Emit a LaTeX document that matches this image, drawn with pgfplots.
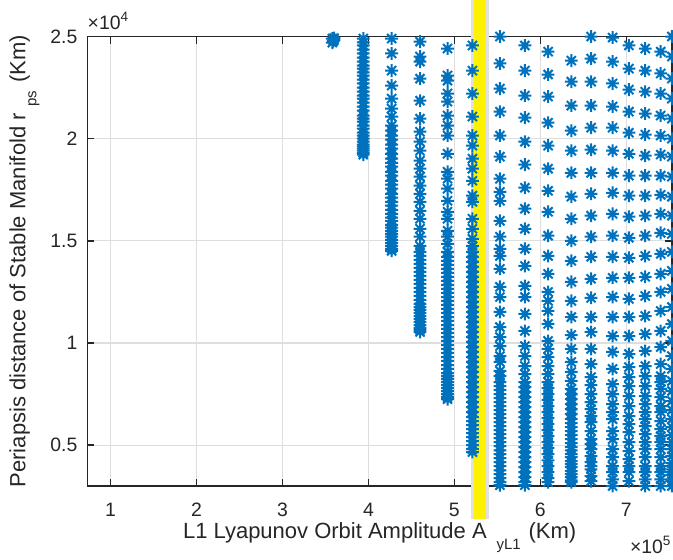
\documentclass[border=0pt]{standalone}
\usepackage{fontspec}
\setmainfont{Liberation Sans}
\usepackage{pgfplots}
\pgfplotsset{compat=1.18}
\definecolor{mblue}{rgb}{0,0.447,0.741}
\definecolor{axgray}{rgb}{0.15,0.15,0.15}
\pgfdeclareplotmark{mstar}{%
  \pgfpathmoveto{\pgfpoint{0pt}{\pgfplotmarksize}}%
  \pgfpathlineto{\pgfpoint{0pt}{-\pgfplotmarksize}}%
  \pgfpathmoveto{\pgfpoint{\pgfplotmarksize}{0pt}}%
  \pgfpathlineto{\pgfpoint{-\pgfplotmarksize}{0pt}}%
  \pgfpathmoveto{\pgfpoint{0.707\pgfplotmarksize}{0.707\pgfplotmarksize}}%
  \pgfpathlineto{\pgfpoint{-0.707\pgfplotmarksize}{-0.707\pgfplotmarksize}}%
  \pgfpathmoveto{\pgfpoint{-0.707\pgfplotmarksize}{0.707\pgfplotmarksize}}%
  \pgfpathlineto{\pgfpoint{0.707\pgfplotmarksize}{-0.707\pgfplotmarksize}}%
  \pgfusepathqstroke}
\pgfplotsset{pts/.style={only marks, mark=mstar, mark size=3.2pt, color=mblue, line width=1pt, mark options={line width=1pt}}}
\begin{document}
\begin{tikzpicture}
\useasboundingbox (-43.65pt,-36.5pt) rectangle (292.85pt,243pt);
\begin{axis}[
  scale only axis, width=292.3pt, height=224.75pt,
  at={(0,0)}, anchor=south west,
  xmin=0.73, xmax=7.53, ymin=0.3, ymax=2.5,
  xtick={1,2,3,4,5,6,7}, ytick={0.5,1,1.5,2,2.5},
  xticklabels={1,2,3,4,5,6,7},
  yticklabels={0.5,1,1.5,2,2.5},
  scaled ticks=false,
  tick align=inside, tick pos=both,
  major tick length=3.5pt,
  grid=major, grid style={color=black!13, line width=0.6pt},
  axis line style={color=axgray, line width=0.7pt},
  tick style={color=axgray, line width=0.7pt},
  ticklabel style={font=\fontsize{9.7}{10}\selectfont, color=axgray, inner sep=1pt},
  xticklabel style={yshift=-7.3pt},
  yticklabel style={xshift=-3.8pt},
  /pgf/number format/assume math mode=true,
  clip=false,
  label style={font=\fontsize{11}{12}\selectfont, color=axgray},
  xlabel style={at={([yshift=-26pt]axis description cs:0.5,0)}, anchor=base},
  ylabel style={at={([xshift=-31pt]axis description cs:0,0.5)}, anchor=base},
  xlabel={L1 Lyapunov Orbit Amplitude A\hspace{0.45em}\raisebox{-0.5em}{\fontsize{7.5}{8}\selectfont yL1}\hspace{0.35em}(Km)},
  ylabel={Periapsis distance of Stable Manifold r\hspace{0.3em}\raisebox{-0.5em}{\fontsize{7.5}{8}\selectfont ps}\hspace{0.35em}(Km)},
]
% column A
\addplot[pts] coordinates {(3.58,2.490)(3.60,2.483)(3.59,2.477)(3.58,2.470)(3.60,2.492)};
% column B
\addplot[pts] coordinates {(3.94,2.490)(3.94,2.471)(3.94,2.456)(3.94,2.436)(3.94,2.417)(3.94,2.397)(3.94,2.377)(3.94,2.358)(3.94,2.343)(3.94,2.324)(3.94,2.309)(3.94,2.289)(3.94,2.270)(3.94,2.250)(3.94,2.230)(3.94,2.211)(3.94,2.196)(3.94,2.176)(3.94,2.157)(3.94,2.137)(3.94,2.113)(3.94,2.098)(3.94,2.083)(3.94,2.064)(3.94,2.049)(3.94,2.029)(3.94,2.015)(3.94,2.000)(3.94,1.985)(3.94,1.971)(3.94,1.961)(3.94,1.951)(3.94,1.941)(3.94,1.931)(3.94,1.922)};
% column C
\addplot[pts] coordinates {(4.27,2.490)(4.27,2.417)(4.27,2.333)(4.27,2.260)(4.27,2.196)(4.27,2.147)(4.27,2.108)(4.27,2.064)(4.27,2.039)(4.27,2.015)(4.27,1.995)(4.27,1.971)(4.27,1.951)(4.27,1.926)(4.27,1.902)(4.27,1.882)(4.27,1.863)(4.27,1.838)(4.27,1.819)(4.27,1.794)(4.27,1.775)(4.27,1.755)(4.27,1.730)(4.27,1.711)(4.27,1.691)(4.27,1.672)(4.27,1.652)(4.27,1.632)(4.27,1.613)(4.27,1.598)(4.27,1.578)(4.27,1.564)(4.27,1.549)(4.27,1.534)(4.27,1.520)(4.27,1.505)(4.27,1.490)(4.27,1.475)(4.27,1.461)(4.27,1.451)};
% column D
\addplot[pts] coordinates {(4.60,2.475)(4.60,2.402)(4.60,2.377)(4.60,2.294)(4.60,2.186)(4.60,2.098)(4.60,2.034)(4.60,1.985)(4.60,1.941)(4.60,1.892)(4.60,1.853)(4.60,1.814)(4.60,1.770)(4.60,1.730)(4.60,1.691)(4.60,1.647)(4.60,1.608)(4.60,1.559)(4.60,1.520)(4.60,1.475)(4.60,1.446)(4.60,1.426)(4.60,1.407)(4.60,1.387)(4.60,1.368)(4.60,1.348)(4.60,1.328)(4.60,1.309)(4.60,1.289)(4.60,1.270)(4.60,1.250)(4.60,1.230)(4.60,1.211)(4.60,1.191)(4.60,1.176)(4.60,1.162)(4.60,1.147)(4.60,1.132)(4.60,1.118)(4.60,1.103)(4.60,1.088)(4.60,1.074)(4.60,1.064)(4.60,1.054)};
% column E
\addplot[pts] coordinates {(4.92,2.441)(4.92,2.309)(4.92,2.284)(4.92,2.221)(4.92,2.181)(4.92,2.113)(4.92,2.064)(4.92,2.015)(4.92,1.926)(4.92,1.838)(4.92,1.804)(4.92,1.755)(4.92,1.696)(4.92,1.642)(4.92,1.608)(4.92,1.549)(4.92,1.520)(4.92,1.485)(4.92,1.446)(4.92,1.422)(4.92,1.402)(4.92,1.382)(4.92,1.363)(4.92,1.343)(4.92,1.324)(4.92,1.304)(4.92,1.284)(4.92,1.265)(4.92,1.245)(4.92,1.225)(4.92,1.206)(4.92,1.186)(4.92,1.167)(4.92,1.147)(4.92,1.127)(4.92,1.108)(4.92,1.088)(4.92,1.069)(4.92,1.049)(4.92,1.029)(4.92,1.010)(4.92,0.990)(4.92,0.971)(4.92,0.951)(4.92,0.931)(4.92,0.912)(4.92,0.892)(4.92,0.873)(4.92,0.853)(4.92,0.838)(4.92,0.824)(4.92,0.809)(4.92,0.794)(4.92,0.779)(4.92,0.765)(4.92,0.750)(4.92,0.735)(4.92,0.725)};
% column F
\addplot[pts] coordinates {(5.21,2.456)(5.21,2.333)(5.21,2.221)(5.21,2.108)(5.21,2.015)(5.21,1.966)(5.21,1.902)(5.21,1.853)(5.21,1.794)(5.21,1.721)(5.21,1.691)(5.21,1.608)(5.21,1.559)(5.21,1.510)(5.21,1.475)(5.21,1.446)(5.21,1.422)(5.21,1.397)(5.21,1.373)(5.21,1.348)(5.21,1.324)(5.21,1.299)(5.21,1.275)(5.21,1.250)(5.21,1.225)(5.21,1.201)(5.21,1.176)(5.21,1.152)(5.21,1.127)(5.21,1.103)(5.21,1.078)(5.21,1.054)(5.21,1.029)(5.21,1.005)(5.21,0.980)(5.21,0.956)(5.21,0.931)(5.21,0.907)(5.21,0.882)(5.21,0.858)(5.21,0.833)(5.21,0.809)(5.21,0.784)(5.21,0.760)(5.21,0.735)(5.21,0.711)(5.21,0.686)(5.21,0.662)(5.21,0.637)(5.21,0.618)(5.21,0.598)(5.21,0.578)(5.21,0.559)(5.21,0.539)(5.21,0.520)(5.21,0.500)(5.21,0.480)(5.21,0.466)};
% column G
\addplot[pts] coordinates {(5.53,2.500)(5.53,2.368)(5.53,2.245)(5.53,2.132)(5.53,2.015)(5.53,1.912)(5.53,1.804)(5.53,1.740)(5.53,1.696)(5.53,1.598)(5.53,1.520)(5.53,1.461)(5.53,1.426)(5.53,1.363)(5.53,1.275)(5.53,1.225)(5.53,1.152)(5.53,1.078)(5.53,1.029)(5.53,0.985)(5.53,0.936)(5.53,0.907)(5.53,0.863)(5.53,0.838)(5.53,0.809)(5.53,0.789)(5.53,0.770)(5.53,0.750)(5.53,0.730)(5.53,0.711)(5.53,0.691)(5.53,0.672)(5.53,0.652)(5.53,0.632)(5.53,0.613)(5.53,0.593)(5.53,0.574)(5.53,0.554)(5.53,0.534)(5.53,0.515)(5.53,0.495)(5.53,0.475)(5.53,0.456)(5.53,0.436)(5.53,0.417)(5.53,0.397)(5.53,0.377)(5.53,0.358)(5.53,0.338)(5.53,0.319)(5.53,0.304)};
% column H
\addplot[pts] coordinates {(5.82,2.456)(5.82,2.333)(5.82,2.211)(5.82,2.103)(5.82,1.985)(5.82,1.873)(5.82,1.760)(5.82,1.657)(5.82,1.559)(5.82,1.461)(5.82,1.377)(5.82,1.279)(5.82,1.225)(5.82,1.142)(5.82,1.059)(5.82,0.985)(5.82,0.936)(5.82,0.887)(5.82,0.848)(5.82,0.809)(5.82,0.784)(5.82,0.760)(5.82,0.735)(5.82,0.711)(5.82,0.686)(5.82,0.662)(5.82,0.637)(5.82,0.613)(5.82,0.588)(5.82,0.564)(5.82,0.539)(5.82,0.515)(5.82,0.490)(5.82,0.466)(5.82,0.441)(5.82,0.417)(5.82,0.392)(5.82,0.368)(5.82,0.343)(5.82,0.319)(5.82,0.304)};
% column I
\addplot[pts] coordinates {(6.09,2.426)(6.09,2.314)(6.09,2.206)(6.09,2.078)(6.09,1.966)(6.09,1.853)(6.09,1.745)(6.09,1.642)(6.09,1.525)(6.09,1.426)(6.09,1.338)(6.09,1.250)(6.09,1.206)(6.09,1.157)(6.09,1.093)(6.09,1.010)(6.09,0.971)(6.09,0.931)(6.09,0.887)(6.09,0.848)(6.09,0.809)(6.09,0.779)(6.09,0.750)(6.09,0.721)(6.09,0.691)(6.09,0.662)(6.09,0.632)(6.09,0.603)(6.09,0.574)(6.09,0.544)(6.09,0.515)(6.09,0.485)(6.09,0.456)(6.09,0.426)(6.09,0.397)(6.09,0.368)(6.09,0.338)(6.09,0.319)};
% column J
\addplot[pts] coordinates {(6.36,2.382)(6.36,2.279)(6.36,2.162)(6.36,2.039)(6.36,1.941)(6.36,1.833)(6.36,1.716)(6.36,1.608)(6.36,1.500)(6.36,1.402)(6.36,1.299)(6.36,1.206)(6.36,1.127)(6.36,1.039)(6.36,0.971)(6.36,0.907)(6.36,0.858)(6.36,0.814)(6.36,0.775)(6.36,0.750)(6.36,0.725)(6.36,0.701)(6.36,0.676)(6.36,0.652)(6.36,0.627)(6.36,0.608)(6.36,0.588)(6.36,0.569)(6.36,0.549)(6.36,0.529)(6.36,0.510)(6.36,0.490)(6.36,0.475)(6.36,0.456)(6.36,0.441)(6.36,0.422)(6.36,0.407)(6.36,0.392)(6.36,0.373)(6.36,0.358)(6.36,0.343)(6.36,0.328)(6.36,0.319)};
% column K
\addplot[pts] coordinates {(6.59,2.500)(6.59,2.392)(6.59,2.279)(6.59,2.162)(6.59,2.054)(6.59,1.946)(6.59,1.833)(6.59,1.730)(6.59,1.623)(6.59,1.520)(6.59,1.422)(6.59,1.314)(6.59,1.221)(6.59,1.127)(6.59,1.054)(6.59,0.971)(6.59,0.897)(6.59,0.833)(6.59,0.794)(6.59,0.750)(6.59,0.711)(6.59,0.676)(6.59,0.642)(6.59,0.613)(6.59,0.569)(6.59,0.529)(6.59,0.505)(6.59,0.480)(6.59,0.446)(6.59,0.417)(6.59,0.397)(6.59,0.382)(6.59,0.348)(6.59,0.324)};
% column L
\addplot[pts] coordinates {(6.84,2.495)(6.84,2.377)(6.84,2.270)(6.84,2.157)(6.84,2.054)(6.84,1.941)(6.84,1.833)(6.84,1.735)(6.84,1.632)(6.84,1.525)(6.84,1.422)(6.84,1.319)(6.84,1.225)(6.84,1.127)(6.84,1.034)(6.84,0.956)(6.84,0.873)(6.84,0.799)(6.84,0.750)(6.84,0.701)(6.84,0.662)(6.84,0.627)(6.84,0.569)(6.84,0.529)(6.84,0.480)(6.84,0.441)(6.84,0.397)(6.84,0.368)(6.84,0.333)(6.84,0.300)};
% column M
\addplot[pts] coordinates {(7.03,2.456)(7.03,2.343)(7.03,2.240)(7.03,2.132)(7.03,2.029)(7.03,1.926)(7.03,1.819)(7.03,1.721)(7.03,1.618)(7.03,1.515)(7.03,1.417)(7.03,1.319)(7.03,1.216)(7.03,1.127)(7.03,1.034)(7.03,0.946)(7.03,0.882)(7.03,0.833)(7.03,0.789)(7.03,0.740)(7.03,0.691)(7.03,0.642)(7.03,0.603)(7.03,0.564)(7.03,0.515)(7.03,0.471)(7.03,0.431)(7.03,0.397)(7.03,0.368)(7.03,0.324)};
% column N
\addplot[pts] coordinates {(7.22,2.441)(7.22,2.333)(7.22,2.230)(7.22,2.123)(7.22,2.020)(7.22,1.917)(7.22,1.819)(7.22,1.721)(7.22,1.623)(7.22,1.525)(7.22,1.426)(7.22,1.324)(7.22,1.230)(7.22,1.132)(7.22,1.044)(7.22,0.961)(7.22,0.887)(7.22,0.838)(7.22,0.789)(7.22,0.740)(7.22,0.701)(7.22,0.662)(7.22,0.627)(7.22,0.593)(7.22,0.554)(7.22,0.515)(7.22,0.480)(7.22,0.441)(7.22,0.397)(7.22,0.368)(7.22,0.333)(7.22,0.300)};
% column O
\addplot[pts] coordinates {(7.40,2.426)(7.40,2.319)(7.40,2.221)(7.40,2.113)(7.40,2.015)(7.40,1.922)(7.40,1.819)(7.40,1.725)(7.40,1.632)(7.40,1.539)(7.40,1.436)(7.40,1.338)(7.40,1.250)(7.40,1.157)(7.40,1.059)(7.40,0.980)(7.40,0.897)(7.40,0.838)(7.40,0.809)(7.40,0.775)(7.40,0.735)(7.40,0.691)(7.40,0.662)(7.40,0.618)(7.40,0.578)(7.40,0.544)(7.40,0.515)(7.40,0.480)(7.40,0.441)(7.40,0.397)(7.40,0.368)(7.40,0.333)(7.40,0.300)};
% column P
\addplot[pts] coordinates {(7.53,2.500)(7.53,2.402)(7.53,2.294)(7.53,2.196)(7.53,2.098)(7.53,2.000)(7.53,1.912)(7.53,1.814)(7.53,1.716)(7.53,1.623)(7.53,1.534)(7.53,1.446)(7.53,1.353)(7.53,1.265)(7.53,1.176)(7.53,1.093)(7.53,1.010)(7.53,0.936)(7.53,0.873)(7.53,0.814)(7.53,0.765)(7.53,0.716)(7.53,0.672)(7.53,0.627)(7.53,0.588)(7.53,0.549)(7.53,0.515)(7.53,0.480)(7.53,0.446)(7.53,0.412)(7.53,0.382)(7.53,0.353)(7.53,0.324)(7.53,0.300)};
% yellow marker line
\addplot[color=black!12, line width=9pt] coordinates {(5.30,0.137)(5.30,2.686)};
\addplot[color=yellow, line width=6pt] coordinates {(5.30,0.137)(5.30,2.686)};
\node[anchor=base west, font=\fontsize{9.7}{10}\selectfont, text=axgray, inner sep=0pt] at ([yshift=3.75pt]rel axis cs:0,1) {×10\textsuperscript{4}};
\node[anchor=base east, font=\fontsize{9.7}{10}\selectfont, text=axgray, inner sep=0pt] at ([yshift=-33.5pt, xshift=0pt]rel axis cs:1,0) {×10\textsuperscript{5}};
\end{axis}
\end{tikzpicture}
\end{document}
